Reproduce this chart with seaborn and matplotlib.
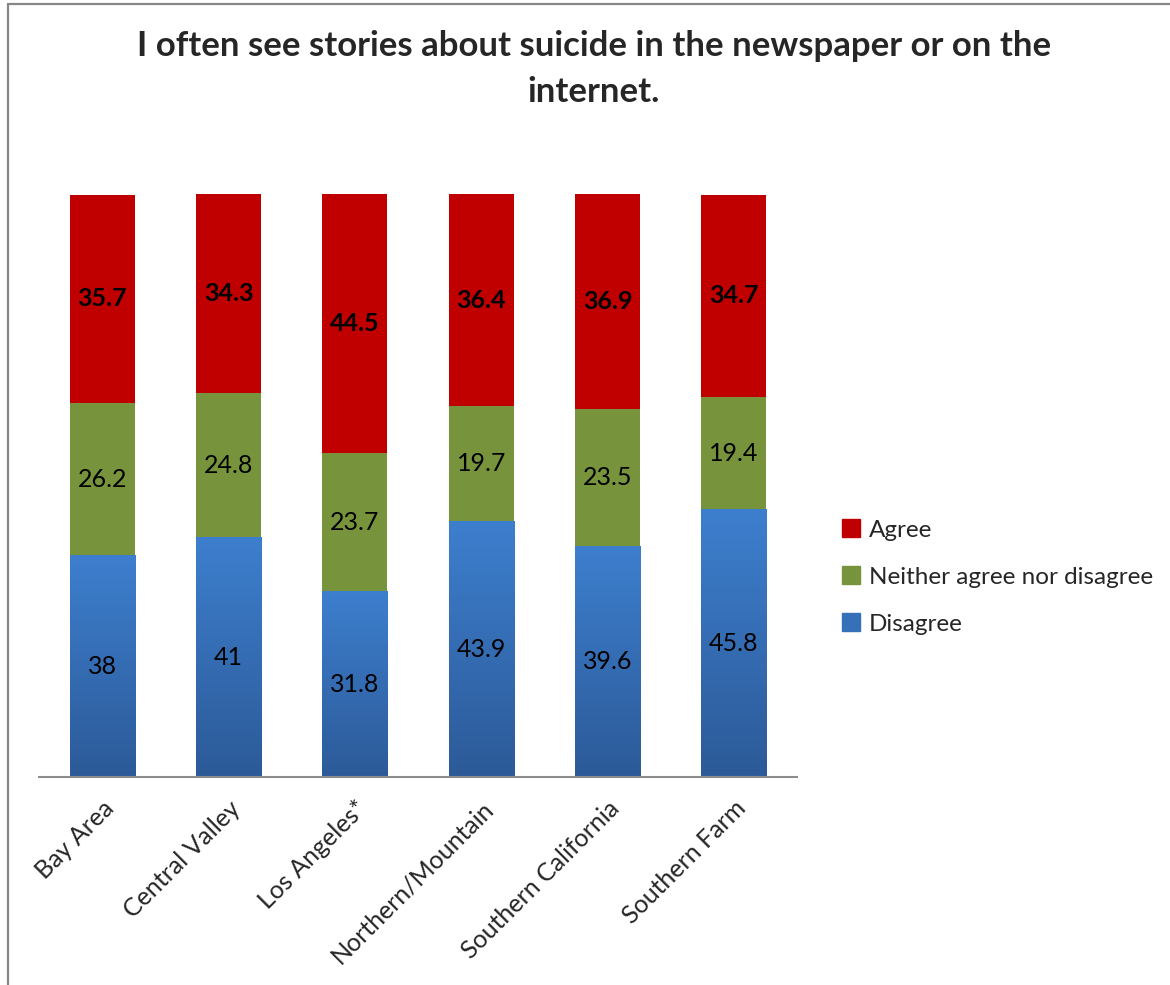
import numpy as np
import pandas as pd
import seaborn as sns
import matplotlib
matplotlib.use("Agg")
from matplotlib import pyplot as plt
from matplotlib.colors import LinearSegmentedColormap
from matplotlib.lines import Line2D
from matplotlib.patches import Patch

regions = ["Bay Area", "Central Valley", "Los Angeles*", "Northern/Mountain",
           "Southern California", "Southern Farm"]
disagree = [38, 41, 31.8, 43.9, 39.6, 45.8]
neither = [26.2, 24.8, 23.7, 19.7, 23.5, 19.4]
agree = [35.7, 34.3, 44.5, 36.4, 36.9, 34.7]

RED = "#C00000"
GREEN = "#77933C"
BLUE_TOP = "#3D7FCE"
BLUE_BOT = "#2C5A98"

sns.set_theme(style="white")
plt.rcParams["font.family"] = ["Lato", "DejaVu Sans"]

fig = plt.figure(figsize=(11.7, 9.85), dpi=100)
ax = fig.add_axes([39 / 1170, 208 / 985, 758 / 1170, 583 / 985])

df = pd.DataFrame({"region": regions, "disagree": disagree,
                   "neither": neither, "agree": agree})
bottom_neither = df["disagree"].to_numpy()
bottom_agree = bottom_neither + df["neither"].to_numpy()

sns.barplot(data=df, x="region", y="disagree", color=BLUE_TOP, saturation=1,
            width=0.515, ax=ax, linewidth=0)
blue_bars = list(ax.patches)
sns.barplot(data=df, x="region", y="neither", color=GREEN, saturation=1,
            width=0.515, bottom=bottom_neither, ax=ax, linewidth=0)
sns.barplot(data=df, x="region", y="agree", color=RED, saturation=1,
            width=0.515, bottom=bottom_agree, ax=ax, linewidth=0)

# vertical gradient on the blue segments
cmap = LinearSegmentedColormap.from_list("blu", [BLUE_BOT, BLUE_TOP])
grad = np.linspace(0, 1, 256).reshape(-1, 1)
for p in blue_bars:
    x0, y0 = p.get_x(), p.get_y()
    ax.imshow(grad, extent=[x0, x0 + p.get_width(), y0, y0 + p.get_height()],
              origin="lower", aspect="auto", cmap=cmap, zorder=p.get_zorder() + 0.1)

conts = ax.containers
for c, vals, bold in [(conts[0], disagree, False), (conts[1], neither, False),
                      (conts[2], agree, True)]:
    labs = [f"{v:g}" for v in vals]
    for t in ax.bar_label(c, labels=labs, label_type="center", fontsize=18,
                          color="black", fontweight="bold" if bold else "normal"):
        t.set_zorder(5)

ax.set_xlim(-0.5, 5.5)
ax.set_ylim(0, 100)
ax.set_xlabel("")
ax.set_ylabel("")
ax.set_yticks([])
for s in ["top", "right", "left"]:
    ax.spines[s].set_visible(False)
ax.spines["bottom"].set_color("#8C8C8C")
ax.spines["bottom"].set_linewidth(1.5)
ax.tick_params(axis="x", length=0, pad=14)
plt.setp(ax.get_xticklabels(), rotation=45, ha="right", rotation_mode="anchor",
         fontsize=18)

handles = [Patch(color=RED), Patch(color=GREEN), Patch(color="#3570B8")]
fig.legend(handles, ["Agree", "Neither agree nor disagree", "Disagree"],
           loc="center left", bbox_to_anchor=(820 / 1170, 1 - 577 / 985),
           frameon=False, fontsize=17.5, handlelength=0.75, handleheight=0.75,
           handletextpad=0.35, labelspacing=1.05)

fig.text(594 / 1170, 1 - 30 / 985,
         "I often see stories about suicide in the newspaper or on the\ninternet.",
         ha="center", va="top", fontsize=25, fontweight="bold",
         linespacing=1.55)

# frame lines of the chart area
fig.add_artist(Line2D([8 / 1170, 8 / 1170], [0, 1 - 4 / 985],
                      transform=fig.transFigure, color="#878787", lw=1.6))
fig.add_artist(Line2D([8 / 1170, 1], [1 - 4 / 985, 1 - 4 / 985],
                      transform=fig.transFigure, color="#878787", lw=1.6))

fig.savefig("out.png", dpi=100, facecolor="white")
